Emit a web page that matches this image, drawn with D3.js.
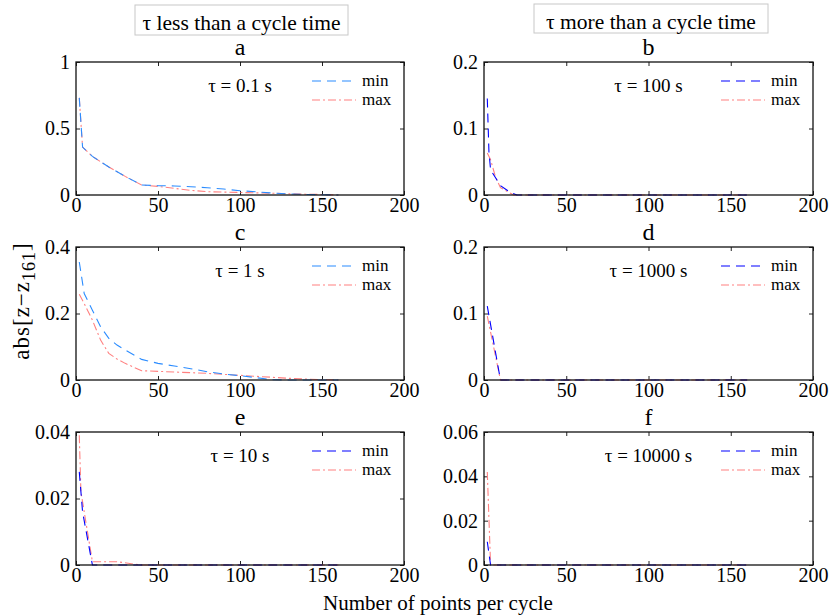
<!DOCTYPE html>
<html>
<head>
<meta charset="utf-8">
<script src="https://cdn.jsdelivr.net/npm/d3@7/dist/d3.min.js"></script>
<style>
  body { margin: 0; background: #fff; }
  svg { font-family: 'Liberation Serif', 'Times New Roman', serif; }
</style>
</head>
<body>
<svg id="chart" width="829" height="615"></svg>
<script>
// a : tau = 0.1 s
const xA = [2, 4, 10, 20, 30, 40, 50, 60, 70, 80, 90, 100, 110, 120, 130, 140, 150, 160]
const aMin = [0.73, 0.36, 0.29, 0.21, 0.14, 0.075, 0.07, 0.068, 0.062, 0.055, 0.045, 0.032, 0.024, 0.015, 0.008, 0.004, 0.002, 0]
const aMax = [0.73, 0.36, 0.29, 0.21, 0.14, 0.075, 0.065, 0.05, 0.035, 0.025, 0.022, 0.019, 0.016, 0.013, 0.009, 0.006, 0.004, 0]

// b : tau = 100 s
const xBmin = [2, 3, 4, 10, 16, 20, 160]
const bMin = [0.145, 0.065, 0.038, 0.014, 0.004, 0, 0]
const xBmax = [2, 4, 7, 10, 18, 160]
const bMax = [0.063, 0.053, 0.027, 0.011, 0, 0]

// c : tau = 1 s
const xC = [2, 5, 10, 15, 20, 25, 30, 40, 50, 60, 70, 80, 90, 100, 110, 120, 130, 140, 150, 160]
const cMin = [0.355, 0.26, 0.21, 0.16, 0.125, 0.105, 0.09, 0.062, 0.05, 0.042, 0.034, 0.025, 0.018, 0.013, 0.007, 0.001, 0, 0, 0, 0]
const cMax = [0.258, 0.23, 0.18, 0.12, 0.08, 0.063, 0.05, 0.028, 0.026, 0.024, 0.022, 0.02, 0.017, 0.014, 0.011, 0.008, 0.005, 0.003, 0.001, 0]

// d : tau = 1000 s
const xD = [2, 10, 160]
const dMin = [0.111, 0, 0]
const dMax = [0.096, 0, 0]

// e : tau = 10 s
const xEmin = [2, 4, 10, 160]
const eMin = [0.028, 0.016, 0, 0]
const xEmax = [2, 3, 10, 12, 25, 35, 40, 160]
const eMax = [0.039, 0.022, 0.001, 0.001, 0.001, 0.0003, 0, 0]

// f : tau = 10000 s
const xF = [2, 4, 160]
const fMin = [0.0105, 0, 0]
const fMax = [0.042, 0, 0]

const xTicks = [0, 50, 100, 150, 200]
const yTicksA = ['0', '0.5', '1']
const yTicksB = ['0', '0.1', '0.2']
const yTicksC = ['0', '0.2', '0.4']
const yTicksE = ['0', '0.02', '0.04']
const yTicksF = ['0', '0.02', '0.04', '0.06']

const lightBlue = '#2b8cff'
const blue = '#0000ff'
const lightRed = '#ff8080'

const panels = [
    { name: 'a', tau: 'τ = 0.1 s', col: 0, row: 0, yTicks: yTicksA, minX: xA, minY: aMin, maxX: xA, maxY: aMax, minColor: lightBlue },
    { name: 'b', tau: 'τ = 100 s', col: 1, row: 0, yTicks: yTicksB, minX: xBmin, minY: bMin, maxX: xBmax, maxY: bMax, minColor: blue },
    { name: 'c', tau: 'τ = 1 s', col: 0, row: 1, yTicks: yTicksC, minX: xC, minY: cMin, maxX: xC, maxY: cMax, minColor: lightBlue },
    { name: 'd', tau: 'τ = 1000 s', col: 1, row: 1, yTicks: yTicksB, minX: xD, minY: dMin, maxX: xD, maxY: dMax, minColor: blue },
    { name: 'e', tau: 'τ = 10 s', col: 0, row: 2, yTicks: yTicksE, minX: xEmin, minY: eMin, maxX: xEmax, maxY: eMax, minColor: blue },
    { name: 'f', tau: 'τ = 10000 s', col: 1, row: 2, yTicks: yTicksF, minX: xF, minY: fMin, maxX: xF, maxY: fMax, minColor: blue }
]

const colLeft = [76, 484]
const colWidth = [328, 329]
const rowTop = [62, 247, 432]
const plotH = 133

const svg = d3.select('#chart')

function drawPanel(p) {
    const left = colLeft[p.col]
    const top = rowTop[p.row]
    const w = colWidth[p.col]
    const yTop = +p.yTicks[p.yTicks.length - 1]

    const x = d3.scaleLinear().domain([0, 200]).range([left, left + w])
    const y = d3.scaleLinear().domain([0, yTop]).range([top + plotH, top])

    const g = svg.append('g')

    // ticks on all four sides, pointing inward (matlab box)
    g.append('g').attr('transform', `translate(0,${top + plotH})`)
        .call(d3.axisBottom(x).tickValues(xTicks).tickSize(-4).tickPadding(3).tickFormat(d3.format('d')))
        .call(s => s.select('.domain').remove())
    g.append('g').attr('transform', `translate(0,${top})`)
        .call(d3.axisTop(x).tickValues(xTicks).tickSize(-4).tickFormat(''))
        .call(s => s.select('.domain').remove())
    g.append('g').attr('transform', `translate(${left},0)`)
        .call(d3.axisLeft(y).tickValues(p.yTicks.map(Number)).tickSize(-4).tickPadding(6).tickFormat((d, i) => p.yTicks[i]))
        .call(s => s.select('.domain').remove())
    g.append('g').attr('transform', `translate(${left + w},0)`)
        .call(d3.axisRight(y).tickValues(p.yTicks.map(Number)).tickSize(-4).tickFormat(''))
        .call(s => s.select('.domain').remove())

    g.selectAll('.tick line').attr('stroke', '#222')
    g.selectAll('.tick text')
        .attr('font-family', "'Liberation Serif', serif")
        .attr('font-size', 20)
        .attr('fill', '#000')

    const line = d3.line().x(d => x(d[0])).y(d => y(d[1]))

    g.append('path')
        .datum(p.maxX.map((v, i) => [v, p.maxY[i]]))
        .attr('d', line)
        .attr('fill', 'none')
        .attr('stroke', lightRed)
        .attr('stroke-width', 1.1)
        .attr('stroke-dasharray', '8,3,2,3')

    g.append('path')
        .datum(p.minX.map((v, i) => [v, p.minY[i]]))
        .attr('d', line)
        .attr('fill', 'none')
        .attr('stroke', p.minColor)
        .attr('stroke-width', 1.1)
        .attr('stroke-dasharray', '9,6')

    // frame
    g.append('rect')
        .attr('x', left).attr('y', top)
        .attr('width', w).attr('height', plotH)
        .attr('fill', 'none')
        .attr('stroke', '#111')
        .attr('stroke-width', 1.3)

    // panel letter
    g.append('text')
        .attr('x', left + w / 2).attr('y', top - 7)
        .attr('text-anchor', 'middle')
        .attr('font-size', 24)
        .text(p.name)

    // tau label
    g.append('text')
        .attr('x', left + w / 2).attr('y', top + 30)
        .attr('text-anchor', 'middle')
        .attr('font-size', 19)
        .text(p.tau)

    // legend
    const lx = left + w - 92
    const legend = [
        { label: 'min', color: p.minColor, dash: '9,6', dy: 19 },
        { label: 'max', color: lightRed, dash: '8,3,2,3', dy: 38 }
    ]
    legend.forEach(l => {
        g.append('line')
            .attr('x1', lx).attr('x2', lx + 44)
            .attr('y1', top + l.dy).attr('y2', top + l.dy)
            .attr('stroke', l.color)
            .attr('stroke-width', 1.1)
            .attr('stroke-dasharray', l.dash)
        g.append('text')
            .attr('x', lx + 50).attr('y', top + l.dy + 5)
            .attr('font-size', 17)
            .text(l.label)
    })
}

panels.forEach(drawPanel)

// header boxes
const headers = [
    { text: 'τ less than a cycle time', x: 135, y: 5, w: 213, h: 30 },
    { text: 'τ more than a cycle time', x: 534, y: 4, w: 234, h: 29 }
]
headers.forEach(hd => {
    svg.append('rect')
        .attr('x', hd.x).attr('y', hd.y)
        .attr('width', hd.w).attr('height', hd.h)
        .attr('fill', '#fff')
        .attr('stroke', '#c8c8c8')
        .attr('stroke-width', 1)
    svg.append('text')
        .attr('x', hd.x + hd.w / 2).attr('y', hd.y + 25)
        .attr('text-anchor', 'middle')
        .attr('font-size', 21.5)
        .text(hd.text)
})

// axis titles
svg.append('text')
    .attr('x', 438).attr('y', 610)
    .attr('text-anchor', 'middle')
    .attr('font-size', 21)
    .text('Number of points per cycle')

const yLab = svg.append('text')
    .attr('transform', 'translate(29,301) rotate(-90)')
    .attr('text-anchor', 'middle')
    .attr('font-size', 23)
    .attr('letter-spacing', 1)
yLab.append('tspan').text('abs[z−z')
yLab.append('tspan').attr('font-size', 18).attr('dy', 6).text('161')
yLab.append('tspan').attr('dy', -6).text(']')
</script>
</body>
</html>
